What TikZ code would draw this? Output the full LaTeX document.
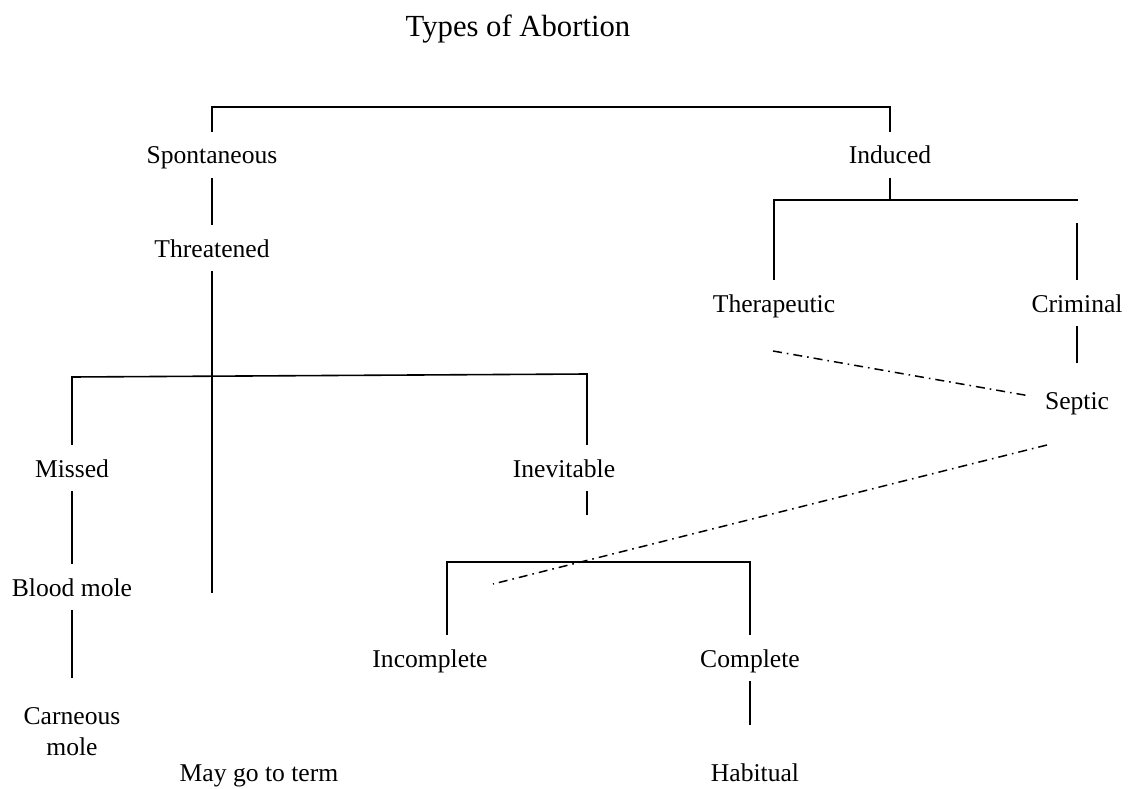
\documentclass[tikz,border=0pt]{standalone}
\usepackage{fontspec}
\setmainfont{Liberation Serif}
\begin{document}
\begin{tikzpicture}[x=1pt,y=-1pt,
  lbl/.style={inner xsep=0pt, inner ysep=14pt, text height=18pt, text depth=0pt, font=\fontsize{25.6pt}{31pt}\selectfont},
  lbltwo/.style={inner sep=0pt, align=center, font=\fontsize{25.6pt}{31pt}\selectfont},
  ttl/.style={inner sep=0pt, font=\fontsize{30.7pt}{36pt}\selectfont},
  conn/.style={line width=1.6pt},
  dd/.style={line width=1.5pt, dash pattern=on 9pt off 5pt on 1.6pt off 5pt}]
\useasboundingbox (0,0) rectangle (1130,789);

% texts
\node[ttl] (title) at (518,29) {Types of Abortion};
\node[lbl] (sp)   at (212,155) {Spontaneous};
\node[lbl] (ind)  at (890,155) {Induced};
\node[lbl] (thr)  at (212,248) {Threatened};
\node[lbl] (ther) at (774,303) {Therapeutic};
\node[lbl] (crim) at (1077,303) {Criminal};
\node[lbl] (sep)  at (1077,400) {Septic};
\node[lbl] (mis)  at (72,468) {Missed};
\node[lbl] (inev) at (564,468) {Inevitable};
\node[lbl] (bm)   at (72,587) {Blood mole};
\node[lbltwo] (cm) at (72,732) {Carneous\\mole};
\node[lbl] (inc)  at (430,658) {Incomplete};
\node[lbl] (comp) at (750,658) {Complete};
\node[lbl] (mgt)  at (259,772) {May go to term};
\node[lbl] (hab)  at (755,772) {Habitual};

% free ends
\coordinate (topL) at (212,107);
\coordinate (indL) at (773,200);
\coordinate (indR) at (1078,200);
\coordinate (crimtop) at (1077,223);
\coordinate (crimend) at (1077,363);
\coordinate (thrend) at (212,593);
\coordinate (bl) at (72,377);
\coordinate (br) at (587,374);
\coordinate (inevend) at (587,515);
\coordinate (bmend) at (72,678);
\coordinate (lbL) at (447,562);
\coordinate (lbR) at (750,562);
\coordinate (compend) at (750,725);
\coordinate (d1a) at (773,351);
\coordinate (d1b) at (1030,396);
\coordinate (d2a) at (1047,445);
\coordinate (d2b) at (493,584);

% connectors
\draw[conn] (sp.north) -- (topL) -| (ind.north);
\draw[conn] (sp.south) -- (thr.north);
\draw[conn] (thr.south) -- (thrend);
\draw[conn] (ind.south) -- (ind.south |- indL);
\draw[conn] (ther.north) -- (ther.north |- indL) -- (indR);
\draw[conn] (crimtop) -- (crim.north);
\draw[conn] (crim.south) -- (crimend);
\draw[conn] (mis.north) -- (bl) -- (br) -- (br |- inev.north);
\draw[conn] (br |- inev.south) -- (inevend);
\draw[conn] (mis.south) -- (bm.north);
\draw[conn] (bm.south) -- (bmend);
\draw[conn] (lbL |- inc.north) -- (lbL) -- (lbR) -- (comp.north);
\draw[conn] (comp.south) -- (compend);
\draw[dd] (d1a) -- (d1b);
\draw[dd] (d2a) -- (d2b);
\end{tikzpicture}
\end{document}
